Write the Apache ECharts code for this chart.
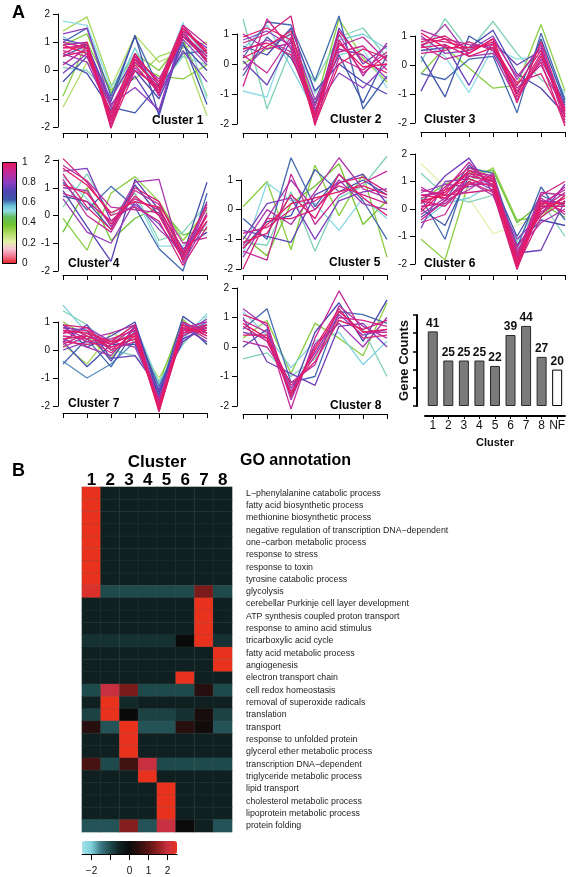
<!DOCTYPE html>
<html><head><meta charset="utf-8">
<script src="https://cdn.jsdelivr.net/npm/echarts@6/dist/echarts.min.js"></script>
<style>html,body{margin:0;padding:0;background:#fff}#c{width:568px;height:877px}</style>
</head><body><div id="c"></div>
<script>
// ---- DATA: each row = [membership, t1..t7] ----
const cluster1 = [
 [0.30,-1.3,0.3,-0.6,1.25,0.3,0.7,-1.6],[0.32,1.4,1.9,-0.5,-0.3,0.5,0.8,1.0],[0.35,-0.9,1.0,-0.7,0.2,-0.2,-0.3,0.2],
 [0.36,0.9,1.3,-0.8,0.6,0.0,1.1,-0.9],[0.50,0.1,0.0,-0.9,0.3,-0.6,0.5,0.2],[0.52,1.75,1.6,-0.6,0.6,-0.5,1.7,-1.0],
 [0.55,1.2,0.6,-1.0,0.8,-0.9,1.5,0.5],[0.62,1.0,1.5,-0.9,1.2,-0.6,0.6,0.7],[0.64,-0.4,0.5,-1.3,-1.5,-0.5,1.0,-1.2],
 [0.66,0.5,0.9,-1.1,1.25,-1.6,1.3,0.3],[0.70,0.3,-0.1,-1.4,0.0,-1.0,0.9,0.0],[0.74,1.1,0.9,-1.2,-0.2,-1.5,1.2,0.5],
 [0.78,-0.1,0.6,-1.0,0.5,-0.8,0.7,-0.4],[0.80,1.3,1.5,-1.2,-0.6,-1.4,1.4,0.8],[0.82,0.6,0.3,-1.5,0.3,-0.5,1.1,0.2],
 [0.85,0.9,1.0,-1.7,0.1,-0.7,1.5,0.6],[0.88,0.2,0.8,-1.3,0.4,-0.3,1.2,0.4],[0.90,0.7,0.5,-1.6,0.6,-0.9,1.6,0.9],
 [0.92,1.0,0.8,-1.9,0.3,-0.6,1.3,0.5],[0.94,0.8,0.9,-2.05,0.5,-0.4,1.6,0.6],[0.96,0.5,0.7,-1.8,0.2,-0.8,1.4,0.3],
 [0.97,0.6,1.0,-2.0,0.0,-0.6,1.2,0.4],[0.98,0.9,0.6,-1.5,0.6,-0.5,1.5,0.7],[0.99,0.8,0.8,-1.7,0.4,-0.7,1.5,0.6]
];
const cluster2 = [
 [0.35,0.0,0.5,1.0,-1.4,1.5,0.2,-0.6],[0.50,1.5,-1.5,0.5,-0.6,0.9,1.2,0.2],[0.52,-0.9,-1.1,1.2,-1.0,0.3,0.5,-0.8],
 [0.55,0.5,1.3,-0.1,-1.6,0.8,1.0,0.5],[0.62,0.2,1.4,1.3,-0.55,1.6,-1.5,-0.4],[0.65,-0.4,0.9,0.2,-1.3,0.3,-1.3,0.3],
 [0.70,0.6,0.3,1.2,-0.9,0.0,-0.6,-1.0],[0.75,0.1,-0.7,0.8,-1.7,1.2,0.0,0.6],[0.80,0.8,1.1,0.6,-1.5,-0.3,-0.8,0.0],
 [0.82,-0.2,0.6,1.0,-1.2,0.5,0.3,-0.5],[0.85,0.4,0.8,0.4,-1.8,1.0,-0.4,0.7],[0.88,1.0,0.5,0.7,-1.4,0.6,0.9,0.1],
 [0.90,0.3,-0.3,0.9,-1.9,0.2,-0.2,0.4],[0.92,-0.75,1.5,0.5,-1.6,0.4,0.6,-0.2],[0.94,0.7,1.0,1.6,-2.05,0.8,-0.3,0.3],
 [0.96,0.5,0.7,0.3,-1.7,1.1,0.1,-0.3],[0.98,0.9,1.2,0.8,-2.0,0.0,0.5,0.2],[0.99,0.2,0.6,1.1,-1.8,0.7,-0.1,0.0]
];
const cluster3 = [
 [0.35,-0.3,0.6,-0.1,-0.8,-0.7,1.4,-0.9],[0.50,0.1,1.6,0.5,1.5,0.4,-0.5,-1.1],[0.52,0.8,0.3,-0.95,0.6,0.2,0.3,-1.0],
 [0.62,-0.3,-0.5,0.2,0.3,-1.65,1.1,-1.2],[0.64,0.3,-1.1,1.0,0.5,-1.0,0.9,-1.3],[0.70,0.5,0.6,0.6,1.2,-0.3,-0.8,-1.7],
 [0.75,-0.9,0.7,-0.7,0.8,0.0,0.5,-1.4],[0.80,1.0,0.4,0.5,1.0,-0.5,0.7,-1.8],[0.84,0.6,1.4,0.3,0.4,-1.2,0.2,-1.5],
 [0.88,1.2,0.9,0.7,0.6,-0.8,0.0,-1.6],[0.90,0.7,0.2,0.4,0.9,-0.4,0.6,-2.0],[0.92,0.9,0.8,0.6,0.7,-1.0,0.4,-1.7],
 [0.94,0.4,0.5,0.8,0.5,-0.6,-0.3,-1.9],[0.96,0.8,1.0,0.5,0.8,-1.3,0.8,-1.6],[0.97,0.6,0.7,0.3,0.6,-0.9,0.1,-2.1],
 [0.98,1.1,0.6,0.6,0.7,-0.7,0.5,-1.8],[0.99,0.7,0.9,0.4,0.9,-1.1,0.3,-1.5]
];
const cluster4 = [
 [0.35,-0.1,-1.25,0.8,1.4,0.5,-0.9,0.2],[0.40,-0.6,1.0,-0.9,-0.1,0.3,-0.7,-0.5],[0.50,0.3,1.5,0.0,0.8,-0.9,-0.6,0.4],
 [0.52,1.4,0.6,-0.3,0.7,-1.1,-1.1,-0.3],[0.62,1.2,0.2,1.05,0.3,-1.2,-2.0,0.8],[0.66,0.7,0.5,-0.5,1.1,0.0,-1.4,1.2],
 [0.72,0.9,-0.4,-1.65,1.3,0.2,-1.2,-0.6],[0.78,1.6,1.7,-0.2,0.4,-0.3,-1.5,0.5],[0.82,0.6,-0.6,-1.0,0.5,-0.5,-1.3,0.0],
 [0.85,1.0,0.9,-0.4,1.2,1.3,-1.7,-0.2],[0.88,1.8,1.25,0.3,0.2,0.1,-1.5,0.3],[0.90,1.3,0.0,-0.6,0.9,0.4,-1.0,-0.8],
 [0.92,0.8,0.5,-0.2,0.6,0.2,-1.6,0.1],[0.94,2.05,1.2,0.0,0.3,-0.2,-1.8,-0.4],[0.96,1.5,0.3,-0.5,1.0,0.5,-1.3,0.4],
 [0.98,1.1,0.8,-0.3,0.7,0.0,-1.6,0.0],[0.99,1.7,1.1,0.1,0.5,0.3,-1.4,-0.2]
];
const cluster5 = [
 [0.35,0.1,0.95,-1.35,1.5,-0.2,1.2,-1.6],[0.38,-0.9,-1.55,0.2,0.8,1.55,-0.5,0.3],[0.50,-1.1,-1.2,0.6,-1.4,0.4,0.8,1.8],
 [0.53,-1.5,0.9,0.3,0.2,-0.7,0.4,-0.3],[0.62,-0.3,-1.0,1.75,0.1,1.2,0.3,-1.0],[0.66,-1.3,-0.4,-0.2,1.35,0.6,1.0,0.5],
 [0.74,-0.7,-0.9,-1.1,0.5,0.9,1.2,0.2],[0.78,-1.0,0.2,0.4,-1.0,0.3,0.6,0.7],[0.83,-1.6,-0.3,1.0,0.0,1.0,0.2,0.0],
 [0.86,-1.2,0.0,-0.5,0.6,1.75,0.7,0.4],[0.90,-1.4,-1.7,1.2,-0.5,0.5,0.9,1.3],[0.93,-0.8,-0.6,0.0,0.3,0.8,0.5,0.2],
 [0.95,-2.0,-0.3,-0.3,0.0,0.9,1.1,0.6],[0.97,-1.1,-0.8,0.5,-0.3,1.2,0.4,-0.2],[0.99,-1.3,-0.5,0.2,0.4,0.6,0.8,0.5]
];
const cluster6 = [
 [0.22,1.65,0.8,0.4,-0.9,-0.6,-0.2,0.3],[0.35,-1.1,-1.85,1.0,1.5,-0.4,-0.3,0.5],[0.40,0.3,0.9,1.3,1.4,-0.5,0.2,-0.3],
 [0.50,1.3,0.5,0.25,0.5,-1.2,0.3,-1.0],[0.55,-0.5,0.2,0.4,0.9,-1.5,0.0,0.6],[0.62,0.4,-1.1,1.5,1.3,-1.4,0.8,-0.4],
 [0.64,0.0,-0.6,1.2,1.0,-1.0,0.5,0.1],[0.70,-0.3,0.3,1.6,0.8,-1.3,-0.4,-0.6],[0.76,0.2,1.2,1.85,0.6,-1.6,-1.5,0.3],
 [0.80,-0.7,1.0,1.1,0.7,-1.1,-0.2,0.9],[0.82,0.6,0.9,0.8,1.1,-1.8,0.3,0.2],[0.85,-0.2,0.4,1.0,0.5,-1.5,-0.5,0.0],
 [0.86,0.8,0.3,0.7,1.3,-1.7,0.6,0.5],[0.87,0.5,0.6,1.4,1.2,-2.0,0.2,0.7],[0.89,0.1,0.2,0.9,0.9,-1.7,-0.1,0.4],
 [0.90,0.4,0.7,1.7,0.8,-1.9,0.4,-0.2],[0.91,-0.5,-0.2,1.3,1.1,-2.0,0.1,0.8],[0.92,-0.4,0.3,1.2,1.0,-1.4,0.0,0.6],
 [0.93,0.7,0.5,0.6,0.7,-2.1,-0.3,0.3],[0.94,0.0,0.8,1.5,1.1,-1.8,0.5,1.0],[0.95,0.3,0.1,1.0,0.6,-2.2,0.1,0.1],
 [0.96,0.2,0.6,1.3,0.9,-1.6,-0.2,0.5],[0.97,0.5,0.4,0.9,1.2,-2.0,0.3,-0.1],[0.98,-0.1,0.7,1.1,0.8,-1.9,0.0,0.4],
 [0.99,0.3,0.5,1.4,1.0,-2.1,0.2,0.2]
];
const cluster7 = [
 [0.30,0.2,-0.5,0.6,0.3,-1.0,0.6,0.9],[0.36,1.0,0.5,-0.3,0.8,-1.2,1.1,0.2],[0.50,1.4,0.9,0.0,-0.2,-1.1,0.2,1.2],
 [0.53,0.5,0.2,0.4,0.5,-1.4,0.9,0.4],[0.55,1.6,0.6,0.3,0.9,-1.2,0.4,1.3],[0.60,-0.4,-1.0,-0.5,0.3,-1.5,0.7,0.9],
 [0.62,-0.5,0.4,-0.6,0.7,-1.3,0.5,1.0],[0.66,0.3,-0.6,0.2,0.2,-1.6,1.2,0.6],[0.68,0.9,0.1,0.5,1.0,-1.7,1.0,0.2],
 [0.72,0.8,0.7,-0.4,0.9,-1.5,0.4,0.8],[0.75,0.3,0.9,-0.3,-0.2,-1.4,0.3,0.9],[0.78,0.0,0.3,0.1,0.4,-1.8,0.8,0.3],
 [0.82,0.6,0.8,0.3,0.1,-1.7,0.6,1.1],[0.85,0.4,0.1,-0.2,0.8,-1.9,1.0,0.5],[0.86,0.8,0.4,0.6,0.9,-2.0,0.8,1.0],
 [0.88,0.9,0.5,0.2,0.6,-2.0,0.7,0.7],[0.90,0.2,0.6,0.0,0.3,-1.8,0.5,0.9],[0.91,0.1,0.5,0.2,0.8,-1.9,1.0,0.6],
 [0.92,0.7,0.3,0.4,0.7,-2.1,0.9,0.4],[0.94,0.5,0.4,-0.1,0.5,-1.9,0.6,0.8],[0.95,0.9,0.8,0.0,0.6,-2.1,0.6,0.8],
 [0.96,0.6,0.7,0.2,0.6,-2.2,0.8,0.6],[0.97,0.3,0.2,0.3,0.9,-2.2,0.7,0.9],[0.98,0.4,0.5,0.1,0.4,-2.0,0.7,0.7],
 [0.99,0.7,0.6,0.3,0.5,-2.1,0.9,0.5]
];
const cluster8 = [
 [0.35,0.3,0.9,-0.9,0.8,0.3,-0.3,1.5],[0.50,-0.4,-0.2,-1.0,-0.4,0.9,0.6,-1.0],[0.54,1.2,0.4,-0.7,0.2,0.5,-0.6,0.2],
 [0.62,0.6,1.3,-1.2,-1.0,1.2,1.1,0.8],[0.70,0.0,0.6,-1.6,0.5,1.5,0.2,1.6],[0.76,1.0,-0.5,-0.9,-1.3,0.7,0.8,0.0],
 [0.80,0.5,0.3,-1.4,-0.2,1.1,0.4,0.6],[0.84,1.3,0.7,-1.8,0.1,0.8,0.0,1.0],[0.88,0.2,0.0,-1.2,-0.6,1.4,0.7,0.3],
 [0.90,0.9,0.5,-2.1,0.3,1.9,0.5,0.5],[0.93,0.7,0.2,-1.5,-0.3,1.0,0.9,0.7],[0.95,1.1,0.8,-1.7,0.0,1.3,0.3,0.4],
 [0.97,0.4,0.4,-1.3,-0.5,0.9,0.6,0.9],[0.99,0.8,0.3,-1.6,-0.1,1.2,0.5,0.6]
];
const timePoints = ['1','2','3','4','5','6','7'];
const clusterNames = ['Cluster 1','Cluster 2','Cluster 3','Cluster 4','Cluster 5','Cluster 6','Cluster 7','Cluster 8'];
const barCategories = ['1','2','3','4','5','6','7','8','NF'];
const geneCounts = [41,25,25,25,22,39,44,27,20];
const heatCols = ['1','2','3','4','5','6','7','8'];
const goTerms = ['L\u2212phenylalanine catabolic process','fatty acid biosynthetic process','methionine biosynthetic process',
 'negative regulation of transcription DNA\u2212dependent','one\u2212carbon metabolic process','response to stress','response to toxin',
 'tyrosine catabolic process','glycolysis','cerebellar Purkinje cell layer development','ATP synthesis coupled proton transport',
 'response to amino acid stimulus','tricarboxylic acid cycle','fatty acid metabolic process','angiogenesis','electron transport chain',
 'cell redox homeostasis','removal of superoxide radicals','translation','transport','response to unfolded protein',
 'glycerol ether metabolic process','transcription DNA\u2212dependent','triglyceride metabolic process','lipid transport',
 'cholesterol metabolic process','lipoprotein metabolic process','protein folding'];
const goScores = [
 [2.5,-0.5,-0.5,-0.5,-0.5,-0.5,-0.5,-0.5],[2.5,-0.5,-0.5,-0.5,-0.5,-0.5,-0.5,-0.5],[2.5,-0.5,-0.5,-0.5,-0.5,-0.5,-0.5,-0.5],
 [2.5,-0.5,-0.5,-0.5,-0.5,-0.5,-0.5,-0.5],[2.5,-0.5,-0.5,-0.5,-0.5,-0.5,-0.5,-0.5],[2.5,-0.5,-0.5,-0.5,-0.5,-0.5,-0.5,-0.5],
 [2.5,-0.5,-0.5,-0.5,-0.5,-0.5,-0.5,-0.5],[2.5,-0.5,-0.5,-0.5,-0.5,-0.5,-0.5,-0.5],[2.3,-1.0,-1.0,-1.0,-1.0,-1.0,1.3,-1.0],
 [-0.5,-0.5,-0.5,-0.5,-0.5,-0.5,2.5,-0.5],[-0.5,-0.5,-0.5,-0.5,-0.5,-0.5,2.5,-0.5],[-0.5,-0.5,-0.5,-0.5,-0.5,-0.5,2.5,-0.5],
 [-0.7,-0.7,-0.7,-0.7,-0.7,0.0,2.5,-0.7],[-0.5,-0.5,-0.5,-0.5,-0.5,-0.5,-0.5,2.5],[-0.5,-0.5,-0.5,-0.5,-0.5,-0.5,-0.5,2.5],
 [-0.5,-0.5,-0.5,-0.5,-0.5,2.5,-0.5,-0.5],[-1.0,2.0,1.3,-1.0,-1.0,-1.0,0.4,-1.0],[-0.5,2.5,-0.6,-0.5,-0.5,-0.5,-0.5,-0.5],
 [-0.9,2.5,0.0,-0.9,-0.9,-0.7,0.2,-0.9],[0.4,-1.1,2.5,-1.1,-1.1,0.4,0.1,-1.1],[-0.5,-0.5,2.5,-0.5,-0.5,-0.5,-0.5,-0.5],
 [-0.5,-0.5,2.5,-0.5,-0.5,-0.5,-0.5,-0.5],[0.8,-1.0,0.7,2.0,-1.0,-1.0,-1.0,-1.0],[-0.5,-0.5,-0.5,2.5,-0.5,-0.5,-0.5,-0.5],
 [-0.5,-0.5,-0.5,-0.5,2.5,-0.5,-0.5,-0.5],[-0.5,-0.5,-0.5,-0.5,2.5,-0.5,-0.5,-0.5],[-0.5,-0.5,-0.5,-0.5,2.5,-0.5,-0.5,-0.5],
 [-1.1,-1.1,1.4,-1.1,2.0,0.0,-0.5,-1.1]
];
const scoreTicks = [-2,-1,0,1,2];
const scoreLabels = [-2,0,1,2];

// ---- STYLE / LAYOUT ----
const FONT = 'Liberation Sans, Arial, Helvetica, sans-serif';
const memStops = [[0,'#e6201f'],[0.08,'#f07a98'],[0.15,'#f6c6d4'],[0.22,'#e0f0a8'],[0.3,'#b0dc68'],[0.38,'#72c42c'],
 [0.46,'#60bc5c'],[0.52,'#90dce4'],[0.57,'#6cc4d8'],[0.63,'#3c58a8'],[0.72,'#5242b2'],[0.8,'#8c3ec0'],[0.9,'#c42a98'],[1,'#e8185c']];
const heatColors = ['#a4e2ea','#7ccfd8','#3a7884','#1f4a4c','#102020','#0a0a0a','#301010','#5a1414','#902020','#c83040','#e8321e'];
function hex(c){return [1,3,5].map(i=>parseInt(c.slice(i,i+2),16));}
function memColor(m){
  for(let i=1;i<memStops.length;i++){
    if(m<=memStops[i][0]){
      const [a,ca]=memStops[i-1],[b,cb]=memStops[i];const t=(m-a)/(b-a);
      const x=hex(ca),y=hex(cb);
      return 'rgb('+x.map((v,k)=>Math.round(v+(y[k]-v)*t)).join(',')+')';
    }
  }
  return memStops[memStops.length-1][1];
}
const layout = [
 {data:cluster1,left:63,top:14,h:113,min:-2,max:2,xOff:6,yOff:5,lx:152,ly:122},
 {data:cluster2,left:243,top:34,h:90,min:-2,max:1,xOff:9,yOff:6,lx:330,ly:121},
 {data:cluster3,left:421,top:36,h:87,min:-2,max:1,xOff:9,yOff:6,lx:424,ly:121},
 {data:cluster4,left:63,top:160,h:111,min:-2,max:2,xOff:4,yOff:5,lx:68,ly:265},
 {data:cluster5,left:243,top:180,h:89,min:-2,max:1,xOff:6,yOff:2,lx:329,ly:264},
 {data:cluster6,left:421,top:154,h:110,min:-2,max:2,xOff:11,yOff:6,lx:424,ly:265},
 {data:cluster7,left:63,top:322,h:84,min:-2,max:1,xOff:7,yOff:5,lx:68,ly:405},
 {data:cluster8,left:243,top:288,h:118,min:-2,max:2,xOff:8,yOff:6,lx:330,ly:407}
];
const grid=[],xAxis=[],yAxis=[],series=[],graphic=[];
layout.forEach((p,i)=>{
  grid.push({left:p.left,top:p.top,width:144,height:p.h});
  xAxis.push({gridIndex:i,type:'category',data:timePoints,boundaryGap:false,offset:p.xOff,
    axisLine:{onZero:false,lineStyle:{color:'#000',width:1}},axisTick:{length:5,lineStyle:{color:'#000'}},axisLabel:{show:false},splitLine:{show:false}});
  yAxis.push({gridIndex:i,type:'value',min:p.min,max:p.max,interval:1,offset:p.yOff,
    axisLine:{show:true,onZero:false,lineStyle:{color:'#000',width:1}},axisTick:{show:true,length:5,lineStyle:{color:'#000'}},
    axisLabel:{fontSize:10,color:'#111',margin:8,fontFamily:FONT},splitLine:{show:false}});
  p.data.slice().sort((a,b)=>a[0]-b[0]).forEach(row=>{
    series.push({type:'line',xAxisIndex:i,yAxisIndex:i,data:row.slice(1),symbol:'none',clip:false,silent:true,
      lineStyle:{width:1.3,color:memColor(row[0])},z:2});
  });
  graphic.push({type:'text',left:p.lx,top:p.ly-7,style:{text:clusterNames[i],font:'bold 12px '+FONT,fill:'#000'}});
});
// bar chart grid (index 8)
grid.push({left:425,top:315,width:143,height:91});
xAxis.push({gridIndex:8,type:'category',data:barCategories,offset:10,name:'Cluster',nameLocation:'middle',nameGap:21,
  nameTextStyle:{fontSize:11,fontWeight:'bold',color:'#111',fontFamily:FONT},
  axisLine:{onZero:false,lineStyle:{color:'#000',width:2}},axisTick:{show:true,alignWithLabel:true,length:3,lineStyle:{color:'#000'}},
  axisLabel:{fontSize:12,color:'#111',margin:4,interval:0,fontFamily:FONT}});
yAxis.push({gridIndex:8,type:'value',min:0,max:50,interval:10,offset:8,name:'Gene Counts',nameLocation:'middle',nameGap:6,
  nameTextStyle:{fontSize:13,fontWeight:'bold',color:'#111',fontFamily:FONT},
  axisLine:{show:true,lineStyle:{color:'#000',width:2}},axisTick:{show:true,length:4,lineStyle:{color:'#000',width:1.5}},
  axisLabel:{show:false},splitLine:{show:false}});
series.push({type:'bar',xAxisIndex:8,yAxisIndex:8,barWidth:10,silent:true,
  data:geneCounts.map((v,k)=>({value:v,itemStyle:barCategories[k]==='NF'?{color:'#fff',borderColor:'#000',borderWidth:1}:{color:'#7a7a7a',borderColor:'#2a2a2a',borderWidth:1}})),
  label:{show:true,position:'top',distance:2,fontSize:12,fontWeight:'bold',color:'#111',fontFamily:FONT}});
// heatmap grid (index 9)
grid.push({left:82,top:487,width:150,height:345});
xAxis.push({gridIndex:9,type:'category',data:heatCols,position:'top',name:'Cluster',nameLocation:'middle',nameGap:16,
  nameTextStyle:{fontSize:17,fontWeight:'bold',color:'#000',fontFamily:FONT},
  axisLine:{show:false},axisTick:{show:false},axisLabel:{fontSize:17,fontWeight:'bold',color:'#000',margin:-2,fontFamily:FONT},splitLine:{show:false}});
yAxis.push({gridIndex:9,type:'category',data:goTerms,inverse:true,position:'right',
  axisLine:{show:false},axisTick:{show:false},axisLabel:{fontSize:8.8,color:'#222',margin:14,align:'left',interval:0,fontFamily:FONT},splitLine:{show:false}});
const heatData=[];
goScores.forEach((row,r)=>row.forEach((v,c)=>heatData.push([c,r,v])));
series.push({type:'heatmap',xAxisIndex:9,yAxisIndex:9,data:heatData,silent:true,
  itemStyle:{borderColor:'rgba(70,95,95,0.35)',borderWidth:0.5}});
const heatIndex = series.length-1;
// membership colorbar axis grid (index 10)
grid.push({left:2,top:162,width:14,height:101});
xAxis.push({gridIndex:10,type:'value',show:false,min:0,max:1});
yAxis.push({gridIndex:10,type:'value',min:0,max:1,interval:0.2,position:'right',
  axisLine:{show:false},axisTick:{show:true,length:3,lineStyle:{color:'#000'}},
  axisLabel:{fontSize:10,color:'#111',margin:6,fontFamily:FONT,formatter:v=>String(+v.toFixed(1))},splitLine:{show:false}});
// score colorbar axis grid (index 11)
grid.push({left:82,top:841,width:95,height:13});
xAxis.push({gridIndex:11,type:'value',min:-2.5,max:2.5,
  axisLine:{show:true,onZero:false,lineStyle:{color:'#000'}},axisTick:{show:true,length:6,customValues:scoreTicks,lineStyle:{color:'#000'}},
  axisLabel:{fontSize:10,color:'#111',margin:12,customValues:scoreLabels,fontFamily:FONT,formatter:v=>String(v).replace('-','\u2212')},splitLine:{show:false}});
yAxis.push({gridIndex:11,type:'value',show:false,min:0,max:1});
// membership colour bar
const grad = memStops.map(([o,c])=>({offset:1-o,color:c})).sort((a,b)=>a.offset-b.offset);
graphic.push({type:'rect',left:2,top:162,shape:{width:14,height:101},
  style:{fill:new echarts.graphic.LinearGradient(0,0,0,1,grad),stroke:'#000',lineWidth:1},z:10});
graphic.push({type:'text',left:12,top:4,style:{text:'A',font:'bold 18px '+FONT,fill:'#000'}});
graphic.push({type:'text',left:12,top:462,style:{text:'B',font:'bold 18px '+FONT,fill:'#000'}});
graphic.push({type:'text',left:240,top:453,style:{text:'GO annotation',font:'bold 16px '+FONT,fill:'#000'}});

const chart = echarts.init(document.getElementById('c'),null,{renderer:'canvas'});
chart.setOption({
  animation:false,
  textStyle:{fontFamily:FONT},
  grid, xAxis, yAxis, series, graphic,
  visualMap:[{type:'continuous',seriesIndex:heatIndex,min:-2.5,max:2.5,orient:'horizontal',left:82,top:841,
    itemWidth:13,itemHeight:95,text:['',''],calculable:false,padding:0,showLabel:false,
    inRange:{color:heatColors}}]
});
</script></body></html>
